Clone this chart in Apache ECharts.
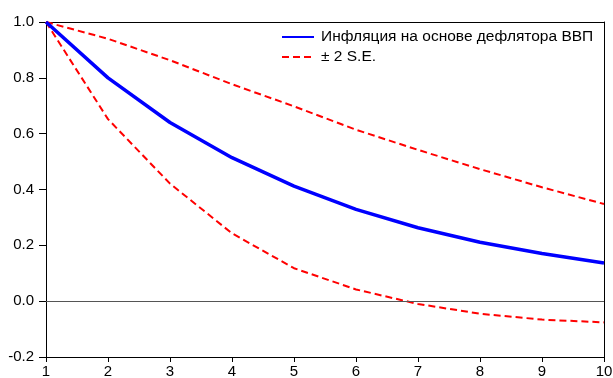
<!DOCTYPE html>
<html>
<head>
<meta charset="utf-8">
<script src="https://cdn.jsdelivr.net/npm/echarts@6/dist/echarts.min.js"></script>
<style>html,body{margin:0;padding:0;background:#fff;}#c{width:613px;height:378px;}</style>
</head>
<body>
<div id="c"></div>
<script>
var periods = [1, 2, 3, 4, 5, 6, 7, 8, 9, 10];
var response = [1.0, 0.80, 0.64, 0.514, 0.412, 0.329, 0.263, 0.211, 0.171, 0.137];
var upperBand = [1.0, 0.94, 0.863, 0.777, 0.698, 0.614, 0.542, 0.473, 0.408, 0.348];
var lowerBand = [1.0, 0.652, 0.421, 0.243, 0.118, 0.042, -0.01, -0.045, -0.066, -0.076];
var seriesNames = ['Инфляция на основе дефлятора ВВП', '± 2 S.E.'];

function pairs(vals) { return periods.map(function (p, i) { return [p, vals[i]]; }); }

var font = 'Liberation Sans, Arial, sans-serif';
var chart = echarts.init(document.getElementById('c'), null, { renderer: 'canvas' });
chart.setOption({
  animation: false,
  backgroundColor: '#fff',
  textStyle: { fontFamily: font },
  grid: { left: 46, top: 22, right: 9, bottom: 21, containLabel: false, outerBoundsMode: 'none' },
  legend: {
    orient: 'vertical', left: 281, top: 29, itemGap: 4, padding: 0,
    itemWidth: 32, itemHeight: 16,
    itemStyle: { opacity: 0 },
    textStyle: { fontFamily: font, fontSize: 15.5, color: '#000', padding: [0, 0, 0, 2] },
    data: seriesNames
  },
  xAxis: [{
    type: 'value', min: 1, max: 10, interval: 1,
    axisLine: { show: true, onZero: false, lineStyle: { color: '#000', width: 1 } },
    axisTick: { show: true, length: 5, lineStyle: { color: '#000' } },
    axisLabel: { color: '#000', fontSize: 15, fontFamily: font, margin: 7 },
    splitLine: { show: false }
  }, {
    type: 'value', min: 1, max: 10, position: 'top',
    axisLine: { show: true, onZero: false, lineStyle: { color: '#000', width: 1 } },
    axisTick: { show: false }, axisLabel: { show: false }, splitLine: { show: false }
  }],
  yAxis: [{
    type: 'value', min: -0.2, max: 1.0, interval: 0.2,
    axisLine: { show: true, onZero: false, lineStyle: { color: '#000', width: 1 } },
    axisTick: { show: true, length: 7, lineStyle: { color: '#000' } },
    axisLabel: { color: '#000', fontSize: 15, fontFamily: font, margin: 12,
      formatter: function (v) { return v.toFixed(1); } },
    splitLine: { show: false }
  }, {
    type: 'value', min: -0.2, max: 1.0, position: 'right',
    axisLine: { show: true, onZero: false, lineStyle: { color: '#000', width: 1 } },
    axisTick: { show: false }, axisLabel: { show: false }, splitLine: { show: false }
  }],
  series: [{
    name: seriesNames[0], type: 'line', data: pairs(response),
    symbol: 'none', lineStyle: { color: '#0000ff', width: 3.5 }, itemStyle: { color: '#0000ff' },
    z: 5,
    markLine: {
      silent: true, symbol: 'none', label: { show: false },
      lineStyle: { color: '#555', width: 1, type: 'solid' },
      data: [{ yAxis: 0 }]
    }
  }, {
    name: seriesNames[1], type: 'line', data: pairs(upperBand),
    symbol: 'none', lineStyle: { color: '#ff0000', width: 2, type: [7, 4] }, itemStyle: { color: '#ff0000' }
  }, {
    name: seriesNames[1], type: 'line', data: pairs(lowerBand),
    symbol: 'none', lineStyle: { color: '#ff0000', width: 2, type: [7, 4] }, itemStyle: { color: '#ff0000' }
  }]
});
</script>
</body>
</html>
